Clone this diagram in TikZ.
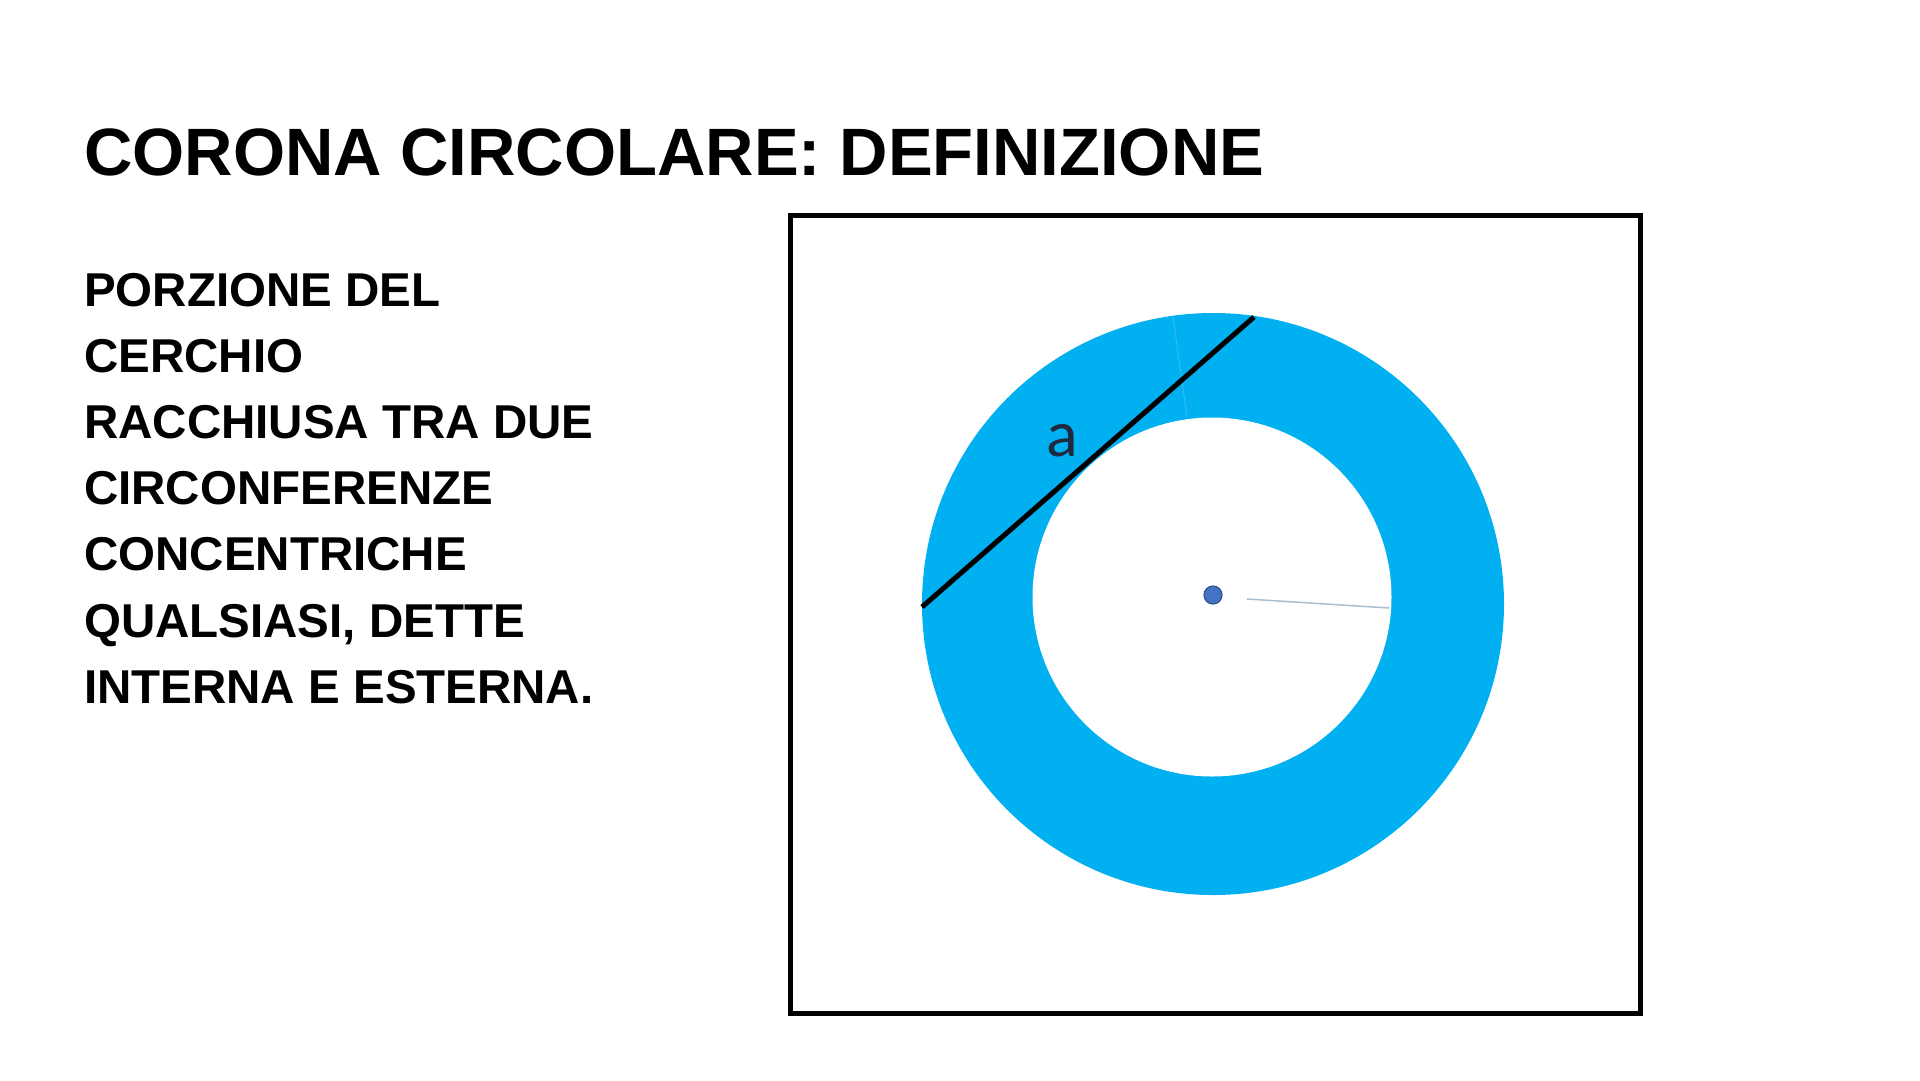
\documentclass[tikz,border=0pt]{standalone}
\usepackage{fontspec}
\setmainfont{Liberation Sans}
\newfontfamily\labelfont{Carlito}
\definecolor{ringblue}{HTML}{00B0F0}
\definecolor{dotblue}{HTML}{4472C4}
\definecolor{dotedge}{HTML}{2F528F}
\definecolor{radgray}{HTML}{A8BFD0}
\definecolor{labelnavy}{HTML}{1F2A40}
\definecolor{faintblue}{HTML}{2CBCF3}
\tikzset{
  titletext/.style={anchor=base west, inner sep=0pt, font=\fontsize{67}{80}\selectfont\bfseries},
  bodytext/.style={anchor=base west, inner sep=0pt, font=\fontsize{47.5}{57}\selectfont\bfseries},
  frame/.style={draw=black, line width=5pt, fill=white},
  chord/.style={draw=black, line width=5pt},
}
\begin{document}
\begin{tikzpicture}[x=1pt,y=-1pt]
\useasboundingbox[fill=white] (0,0) rectangle (1920,1080);
% title
\node[titletext] (title) at (84,175) {CORONA CIRCOLARE: DEFINIZIONE};
% body
\node[bodytext] (l1) at (84,306) {PORZIONE DEL};
\node[bodytext] (l2) at (84,372.2) {CERCHIO};
\node[bodytext] (l3) at (84,438.4) {RACCHIUSA TRA DUE};
\node[bodytext] (l4) at (84,504.6) {CIRCONFERENZE};
\node[bodytext] (l5) at (84,570.8) {CONCENTRICHE};
\node[bodytext] (l6) at (84,637) {QUALSIASI, DETTE};
\node[bodytext] (l7) at (84,703.2) {INTERNA E ESTERNA.};
% frame
\draw[frame] (790,215.5) rectangle (1640,1013.5);
% ring
\fill[ringblue] (1213,604) circle (291);
\fill[white] (1212,597) circle (179.5);
\draw[faintblue, line width=1pt] (1173,317) -- (1187,417);
% radius line and centre
\coordinate (centre) at (1213,595);
\coordinate (inneredge) at (1389,608);
\coordinate (chordA) at (922,607);
\coordinate (chordB) at (1254,317);
\draw[radgray, line width=1.5pt] ([xshift=34pt,yshift=-4pt]centre) -- (inneredge);
\node[circle, fill=dotblue, draw=dotedge, line width=1.2pt, minimum size=18pt, inner sep=0pt] (dot) at (centre) {};
\draw[chord] (chordA) -- (chordB);
\node[font=\labelfont\fontsize{66}{72}\selectfont, text=labelnavy, inner sep=0pt] (alabel) at (1062,441) {a};
\end{tikzpicture}
\end{document}
